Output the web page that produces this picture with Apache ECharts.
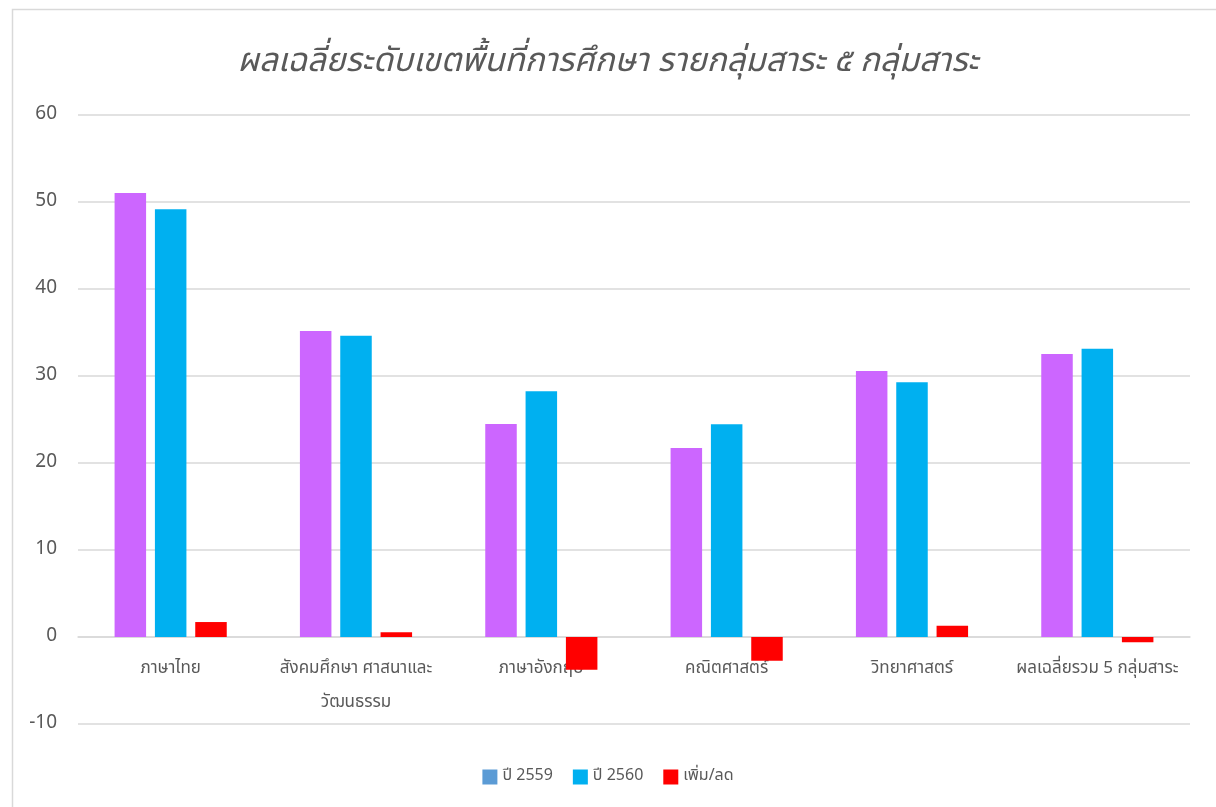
<!DOCTYPE html>
<html>
<head>
<meta charset="utf-8">
<script src="https://cdn.jsdelivr.net/npm/echarts@6/dist/echarts.min.js"></script>
<style>
html,body{margin:0;padding:0;background:#fff;}
#c{width:1216px;height:807px;}
</style>
</head>
<body>
<div id="c"></div>
<script>
const titleText = 'ผลเฉลี่ยระดับเขตพื้นที่การศึกษา รายกลุ่มสาระ ๕ กลุ่มสาระ';
const categories = ['ภาษาไทย', 'สังคมศึกษา ศาสนาและ\nวัฒนธรรม', 'ภาษาอังกฤษ', 'คณิตศาสตร์', 'วิทยาศาสตร์', 'ผลเฉลี่ยรวม 5 กลุ่มสาระ'];
const seriesNames = ['ปี 2559', 'ปี 2560', 'เพิ่ม/ลด'];
const y2559 = [51.03, 35.17, 24.48, 21.72, 30.57, 32.53];
const y2560 = [49.16, 34.63, 28.24, 24.45, 29.28, 33.14];
const diff = [1.72, 0.54, -3.76, -2.73, 1.29, -0.61];
const yTicks = {min: -10, max: 60, interval: 10};

const FONT = "'Noto Sans Thai', 'Noto Sans', 'DejaVu Sans', sans-serif";
const chart = echarts.init(document.getElementById('c'), null, {renderer: 'canvas'});
// pixel offset that moves the category axis from the grid bottom (-10) up to 0
const gridTop = 115, gridBottom = 83, H = 807;
const plotH = H - gridTop - gridBottom;
const zeroOffset = plotH * (0 - yTicks.min) / (yTicks.max - yTicks.min);
chart.setOption({
  animation: false,
  textStyle: {fontFamily: FONT},
  graphic: [{
    type: 'rect', left: 10, top: 7,
    shape: {width: 1230, height: 820},
    style: {fill: 'none', stroke: '#D9D9D9', lineWidth: 1.5},
    silent: true
  }],
  title: {
    text: titleText, left: 'center', top: 43,
    textStyle: {fontFamily: FONT, fontSize: 33, fontWeight: 'normal', fontStyle: 'italic', color: '#595959'}
  },
  legend: {
    bottom: 17, left: 'center', itemWidth: 15, itemHeight: 15, itemGap: 20,
    icon: 'rect',
    textStyle: {fontFamily: FONT, fontSize: 16, color: '#595959'},
    data: seriesNames
  },
  grid: {left: 78, right: 26, top: gridTop, bottom: gridBottom, containLabel: false, outerBoundsMode: 'none'},
  xAxis: {
    type: 'category', data: categories,
    offset: -zeroOffset,
    axisLine: {onZero: false, lineStyle: {color: '#D9D9D9', width: 1.5}},
    axisTick: {show: false},
    axisLabel: {fontFamily: FONT, fontSize: 17, color: '#595959', margin: 16, lineHeight: 34, interval: 0}
  },
  yAxis: {
    type: 'value', min: yTicks.min, max: yTicks.max, interval: yTicks.interval,
    axisLine: {show: false}, axisTick: {show: false},
    axisLabel: {fontFamily: FONT, fontSize: 19, color: '#595959', margin: 21},
    splitLine: {lineStyle: {color: '#D9D9D9', width: 1.5}}
  },
  series: [
    {name: seriesNames[0], type: 'bar', itemStyle: {color: '#5B9BD5'},
     data: y2559.map(v => ({value: v, itemStyle: {color: '#CC66FF'}})),
     barWidth: '17%', barGap: '28%'},
    {name: seriesNames[1], type: 'bar', itemStyle: {color: '#00B0F0'}, data: y2560, barWidth: '17%', barGap: '28%', z: 2},
    {name: seriesNames[2], type: 'bar', itemStyle: {color: '#FF0000'}, data: diff, barWidth: '17%', barGap: '28%', z: 3}
  ]
});
</script>
</body>
</html>
